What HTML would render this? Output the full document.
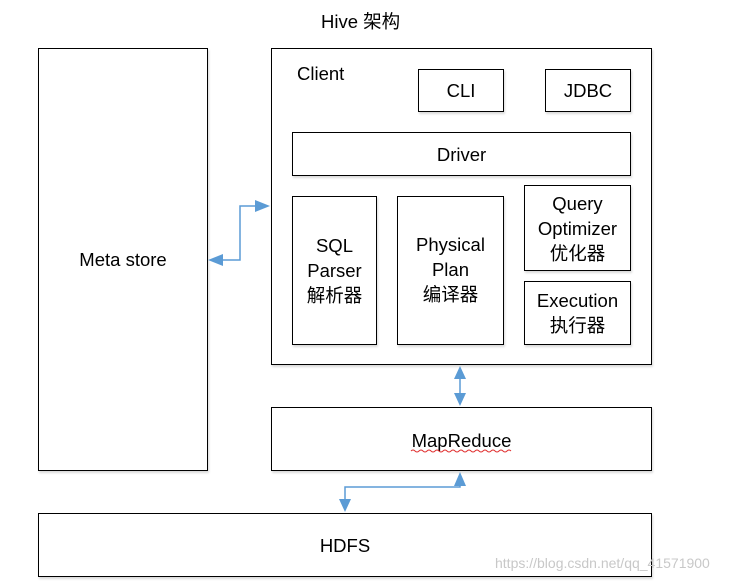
<!DOCTYPE html>
<html><head><meta charset="utf-8"><style>
body{margin:0;width:747px;height:582px;background:#fff;position:relative;font-family:"Liberation Sans","Noto Sans CJK SC",sans-serif;font-size:18.5px;color:#000;overflow:hidden}
.b{position:absolute;border:1px solid #000;box-sizing:border-box;display:flex;align-items:center;justify-content:center;text-align:center;line-height:25px;background:#fff;box-shadow:1px 2px 2px rgba(0,0,0,0.15)}
.t{position:absolute}
</style></head><body>
<div class="t" style="left:321px;top:8px">Hive 架构</div>
<div class="b" style="left:38px;top:48px;width:170px;height:423px">Meta store</div>
<div class="b" style="left:271px;top:48px;width:381px;height:317px"></div>
<div class="t" style="left:297px;top:63px">Client</div>
<div class="b" style="left:418px;top:69px;width:86px;height:43px">CLI</div>
<div class="b" style="left:545px;top:69px;width:86px;height:43px">JDBC</div>
<div class="b" style="left:292px;top:132px;width:339px;height:44px">Driver</div>
<div class="b" style="left:292px;top:196px;width:85px;height:149px">SQL<br>Parser<br>解析器</div>
<div class="b" style="left:397px;top:196px;width:107px;height:149px;align-items:flex-start;padding-top:35px">Physical<br>Plan<br>编译器</div>
<div class="b" style="left:524px;top:185px;width:107px;height:86px">Query<br>Optimizer<br>优化器</div>
<div class="b" style="left:524px;top:281px;width:107px;height:64px">Execution<br>执行器</div>
<div class="b" style="left:271px;top:407px;width:381px;height:64px;padding-top:2px">MapReduce</div>
<div class="b" style="left:38px;top:513px;width:614px;height:64px">HDFS</div>
<div class="t" style="left:495px;top:555px;color:#c8c8c8;font-size:14px">https://blog.csdn.net/qq_41571900</div>
<svg width="747" height="582" style="position:absolute;left:0;top:0">
<g stroke="#5b9bd5" stroke-width="1.5" fill="none">
<polyline points="222,260 240,260 240,206 256,206"/>
<line x1="460" y1="378" x2="460" y2="394"/>
<polyline points="460,478 460,487 345,487 345,500"/>
</g>
<g fill="#5b9bd5">
<polygon points="208,260 223,254 223,266"/>
<polygon points="270,206 255,200 255,212"/>
<polygon points="460,366 454,379 466,379"/>
<polygon points="460,406 454,393 466,393"/>
<polygon points="460,472 454,486 466,486"/>
<polygon points="345,512 339,499 351,499"/>
</g>
<path d="M411 451 q2 -2 4 0 t4 0 t4 0 t4 0 t4 0 t4 0 t4 0 t4 0 t4 0 t4 0 t4 0 t4 0 t4 0 t4 0 t4 0 t4 0 t4 0 t4 0 t4 0 t4 0 t4 0 t4 0 t4 0 t4 0 t4 0" stroke="#e03030" stroke-width="1" fill="none"/>
</svg>
</body></html>
